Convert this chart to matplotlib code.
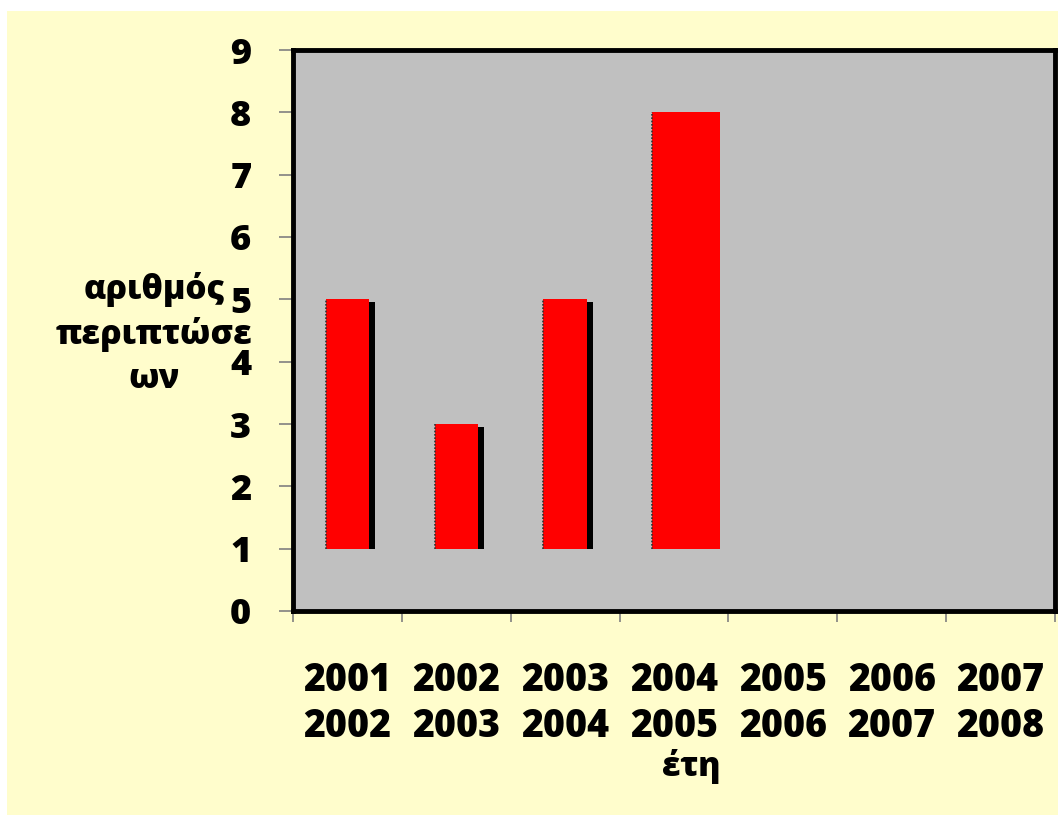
import matplotlib
matplotlib.use('Agg')
import matplotlib.pyplot as plt
from matplotlib.patches import Rectangle

plt.rcParams['font.family'] = ['Open Sans', 'DejaVu Sans']
plt.rcParams['font.weight'] = 'bold'

# data
periods = ['2001\n2002', '2002\n2003', '2003\n2004', '2004\n2005',
           '2005\n2006', '2006\n2007', '2007\n2008']
bar_bottom = [1, 1, 1, 1]
bar_top = [5, 3, 5, 8]
has_shadow = [True, True, True, False]
bar_widths = [0.40, 0.40, 0.40, 0.62]

yellow = '#FFFDCC'
gray = '#C0C0C0'

fig = plt.figure(figsize=(10.58, 8.15), dpi=100)
fig.patch.set_facecolor('white')
fig.patches.append(Rectangle((7 / 1058, 0), 1, 1 - 11 / 815,
                             transform=fig.transFigure, facecolor=yellow,
                             edgecolor='none', zorder=-10))

ax = fig.add_axes([293 / 1058, 1 - 611 / 815, (1055 - 293) / 1058, (611 - 50) / 815])
ax.set_facecolor(gray)

n = len(periods)
for i, (b, t) in enumerate(zip(bar_bottom, bar_top)):
    left = i + 0.5 - 0.2
    w = bar_widths[i]
    if has_shadow[i]:
        # dark drop shadow on the right side
        ax.bar(left + w, t - b - 0.05, width=0.055, bottom=b, align='edge',
               color='black', zorder=2)
    ax.bar(left, t - b, width=w, bottom=b, align='edge', color='#FF0000',
           edgecolor='none', zorder=3)
    ax.plot([left, left], [b, t], color='#333333', lw=1.2, ls=(0, (1, 1)), zorder=4)

ax.set_xlim(0, n)
ax.set_ylim(0, 9)
ax.set_yticks(range(10))
ax.set_yticklabels([str(v) for v in range(10)], fontsize=26, fontweight=800)
ax.set_xticks([i for i in range(n + 1)])
ax.set_xticklabels([])
ax.set_xticks([i + 0.5 for i in range(n)], minor=True)
ax.set_xticklabels(periods, minor=True, fontsize=27, fontweight=800,
                   linespacing=1.22)
ax.tick_params(axis='x', which='minor', length=0, pad=36)
ax.tick_params(axis='x', which='major', direction='out', length=8, color='#808080', width=1.2)
ax.tick_params(axis='y', direction='out', length=10, color='#808080', width=1.2, pad=20)

for s in ax.spines.values():
    s.set_linewidth(3.5)
    s.set_color('black')

fig.text(154 / 1058, 1 - 334 / 815, 'αριθμός\nπεριπτώσε\nων', ha='center', va='center',
         fontsize=24, fontweight=800, linespacing=1.38)
fig.text(691 / 1058, 1 - 766 / 815, 'έτη', ha='center', va='center',
         fontsize=24, fontweight=800)

fig.savefig('out.png', dpi=100, facecolor=fig.get_facecolor())
